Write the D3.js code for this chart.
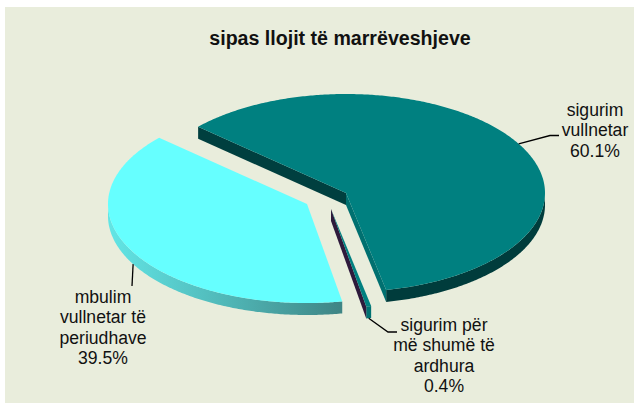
<!DOCTYPE html>
<html><head><meta charset="utf-8">
<script src="https://cdn.jsdelivr.net/npm/d3@7"></script>
<style>html,body{margin:0;padding:0;background:#fff}svg{display:block}text{font-family:"Liberation Sans",Arial,sans-serif;fill:#111}</style>
</head><body><svg id="c" width="634" height="403"></svg>
<script>
const title = "sipas llojit të marrëveshjeve";
const categories = ["sigurim vullnetar", "sigurim për më shumë të ardhura", "mbulim vullnetar të periudhave"];
const values = [60.1, 0.4, 39.5];
const labelLines = [["sigurim","vullnetar"],["sigurim për","më shumë të","ardhura"],["mbulim","vullnetar të","periudhave"]];
const valueLabels = ["60.1%","0.4%","39.5%"];
const topColors = ["#008080","#008080","#66ffff"];
const rimColors = ["#003c3c","#007272","url(#rim)"];
const cutColors = ["#007070","#2e1a3c",null];
const startCutColors = ["#003f3f",null,null];

const W=634,H=403,rx=199,ry=99,depth=12,fontSize=17.6,lineH=20.4;
const centers=[[346,193],[331,209],[307,204]];
const labelPos=[{x:595,y:116},{x:444,y:331},{x:103,y:303}];
const elbows=[[[550,135.5],[559,135.5]],[[388,332],[397,332]],[[132,286]]];

const svg=d3.select("#c");
svg.append("rect").attr("x",5).attr("y",7).attr("width",W-5).attr("height",H-7).attr("fill","#e9eddc");
const defs=svg.append("defs");
const g=defs.append("linearGradient").attr("id","rim").attr("gradientUnits","userSpaceOnUse")
  .attr("x1",107).attr("x2",341).attr("y1",0).attr("y2",0);
g.append("stop").attr("offset",0).attr("stop-color","#62e6e6");
g.append("stop").attr("offset",0.45).attr("stop-color","#52bdbd");
g.append("stop").attr("offset",1).attr("stop-color","#3f8585");

const slices=d3.pie().sort(null).startAngle(-48*Math.PI/180).endAngle(312*Math.PI/180)(values);
const px=d3.scaleLinear().domain([-1,1]).range([-rx,rx]);
const py=d3.scaleLinear().domain([-1,1]).range([ry,-ry]);
const pt=(c,a,dz=0)=>[c[0]+px(Math.sin(a)),c[1]+py(Math.cos(a))+dz];
const line=d3.line();
const sample=(a0,a1)=>{const n=Math.max(2,Math.ceil(Math.abs(a1-a0)/0.01));return d3.range(n+1).map(i=>a0+(a1-a0)*i/n);};
const order=[2,1,0];
order.forEach(i=>{
  const s=slices[i],c=centers[i];
  const a0=Math.max(s.startAngle,Math.PI/2),a1=Math.min(s.endAngle,Math.PI*1.5);
  if(a1>a0){
    const arc=sample(a0,a1);
    const pts=arc.map(a=>pt(c,a)).concat(arc.slice().reverse().map(a=>pt(c,a,depth)));
    svg.append("path").attr("d",line(pts)+"Z").attr("fill",rimColors[i]);
  }
  if(cutColors[i]){
    const e=pt(c,s.endAngle),e2=pt(c,s.endAngle,depth);
    svg.append("path").attr("d",line([c,e,e2,[c[0],c[1]+depth]])+"Z").attr("fill",cutColors[i]);
  }
  if(startCutColors[i]){
    const e=pt(c,s.startAngle),e2=pt(c,s.startAngle,depth);
    svg.append("path").attr("d",line([c,e,e2,[c[0],c[1]+depth]])+"Z").attr("fill",startCutColors[i]);
  }
  const top=[c].concat(sample(s.startAngle,s.endAngle).map(a=>pt(c,a)));
  svg.append("path").attr("d",line(top)+"Z").attr("fill",topColors[i]);
});
slices.forEach((s,i)=>{
  const mid=(s.startAngle+s.endAngle)/2;
  const front=Math.cos(mid)<0;
  const start=pt(centers[i],mid,front?depth:0);
  svg.append("path").attr("d",line([start].concat(elbows[i]))).attr("fill","none").attr("stroke","#000").attr("stroke-width",1.3);
});
slices.forEach((s,i)=>{
  const t=svg.append("text").attr("text-anchor","middle").attr("font-size",fontSize);
  labelLines[i].concat([valueLabels[i]]).forEach((l,j)=>{
    t.append("tspan").attr("x",labelPos[i].x).attr("y",labelPos[i].y+j*lineH).text(l);
  });
});
svg.append("text").attr("x",340).attr("y",45).attr("text-anchor","middle").attr("font-size",19.6).attr("font-weight","bold").text(title);
</script></body></html>
